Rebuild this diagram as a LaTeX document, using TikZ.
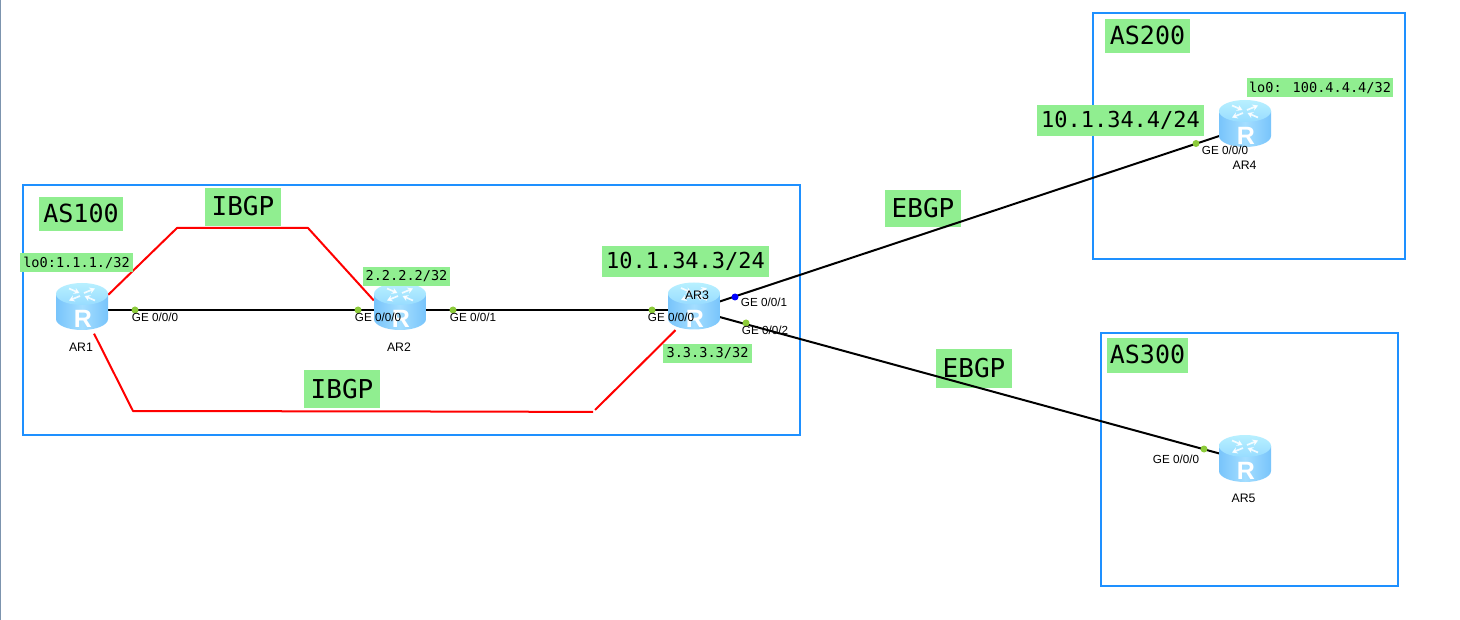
\documentclass[tikz,border=0pt]{standalone}
\usepackage{fontspec}
\setmainfont{Liberation Sans}
\newfontfamily\monof{DejaVu Sans Mono}
\usetikzlibrary{arrows.meta}
\definecolor{asblue}{HTML}{1E90FF}
\definecolor{labgreen}{HTML}{90EE90}
\definecolor{dotgreen}{HTML}{8CCB3A}
\definecolor{edgegray}{HTML}{7C94AE}
\definecolor{bodyside}{HTML}{78C4FB}
\definecolor{bodymid}{HTML}{A4DEFF}
\definecolor{toplight}{HTML}{B8F0FF}
\definecolor{topdark}{HTML}{98DCFF}
\newcommand{\liftup}[1]{\raisebox{2pt}{#1}}
\tikzset{
  x=1pt,y=-1pt,
  asbox/.style={draw=asblue,line width=2pt},
  tag/.style={fill=labgreen,inner sep=0pt,text=black,align=center},
  tagbig/.style={tag,font=\monof\fontsize{22}{24}\selectfont},
  tagas/.style={tag,font=\monof\fontsize{25}{27}\selectfont},
  taghuge/.style={tag,font=\monof\fontsize{26}{28}\selectfont},
  tagsmall/.style={tag,font=\monof\fontsize{13.6}{15}\selectfont},
  port/.style={font=\fontsize{11.7}{13}\selectfont,inner sep=0pt,text=black},
  devname/.style={font=\fontsize{12.3}{14}\selectfont,inner sep=0pt,text=black},
  routerbox/.style={inner sep=0pt,minimum width=52pt,minimum height=47pt},
  dot/.style={circle,inner sep=0pt,minimum size=7pt,fill=#1},
  wire/.style={draw=black,line width=2pt},
  session/.style={draw=red,line width=2pt,line join=round},
  arrowmark/.style={draw=white,draw opacity=0.85,fill opacity=0.85,line width=1.7pt,-{Stealth[length=5.5pt,width=6.5pt]}},
  router/.pic={
    \shade[left color=bodyside,right color=bodyside,middle color=bodymid]
      (-26,-12.5) -- (-26,12.5) .. controls (-26,18.6) and (-14.4,23.5) .. (0,23.5)
      .. controls (14.4,23.5) and (26,18.6) .. (26,12.5) -- (26,-12.5) -- cycle;
    \shade[top color=toplight,bottom color=topdark]
      (0,-12.5) ellipse [x radius=26,y radius=11];
    \draw[arrowmark] (2,-13.5) -- (13,-18);
    \draw[arrowmark] (-2,-10.5) -- (-13,-6);
    \draw[arrowmark] (-13,-18) -- (-2.5,-13.5);
    \draw[arrowmark] (13,-6) -- (2.5,-10.5);
    \node[inner sep=0pt,text=white,font=\bfseries\fontsize{25}{27}\selectfont] at (1,12.5) {R};
  }
}
\begin{document}
\begin{tikzpicture}
\useasboundingbox (0,0) rectangle (1460,620);
\fill[white] (0,0) rectangle (1460,620);
\draw[edgegray,line width=1.5pt] (0.5,0) -- (0.5,620);

% AS frames
\draw[asbox] (23,185.5) rectangle (800,435);
\draw[asbox] (1093,13.5) rectangle (1405,259);
\draw[asbox] (1101,333.5) rectangle (1398,586);

% router anchors
\node[routerbox] (ar1) at (82,310) {};
\node[routerbox] (ar2) at (400,310) {};
\node[routerbox] (ar3) at (694,310) {};
\node[routerbox] (ar4) at (1245,127.5) {};
\node[routerbox] (ar5) at (1245,460.5) {};

% EBGP tags lie under the links
\node[taghuge,minimum width=76pt,minimum height=37pt] (l6) at (923,208.5) {\liftup{EBGP}};
\node[taghuge,minimum width=76pt,minimum height=39pt] (l7) at (974,368.5) {\liftup{EBGP}};

% links
\draw[wire] (ar1.center) -- (ar2.center);
\draw[wire] (ar2.center) -- (ar3.center);
\draw[wire] (ar3.center) -- (ar4.center);
\draw[wire] (ar3.center) -- (ar5.center);

% IBGP sessions
\coordinate (t1) at (177,228);
\coordinate (t2) at (308,228);
\coordinate (b1) at (133,411);
\coordinate (b2) at (490,411.6);
\coordinate (b3) at (593,412);
\coordinate (b4) at (595,410);
\draw[session] (ar1.30) -- (t1) -- (t2) -- (ar2.160);
\draw[session] (ar1.-63) -- (b1) -- (b2) -- (b3);
\draw[session,shorten >=-5pt] (b4) -- (ar3.-133);

% router icons
\pic at (82,306.5) {router};
\pic at (400,306.5) {router};
\pic at (694,306) {router};
\pic at (1245,123.5) {router};
\pic at (1245,458.5) {router};

% port dots
\node[dot=dotgreen] (d1) at (135,310) {};
\node[dot=dotgreen] (d2) at (358,310) {};
\node[dot=dotgreen] (d3) at (453,310) {};
\node[dot=dotgreen] (d4) at (652,310) {};
\node[dot=blue] (d5) at (735,297) {};
\node[dot=dotgreen] (d6) at (746,323) {};
\node[dot=dotgreen] (d7) at (1196,143.5) {};
\node[dot=dotgreen] (d8) at (1204,449) {};

% port labels
\node[port] (p1) at (155,317) {GE 0/0/0};
\node[port] (p2) at (378,317) {GE 0/0/0};
\node[port] (p3) at (473,317) {GE 0/0/1};
\node[port] (p4) at (671,317) {GE 0/0/0};
\node[port] (p5) at (764,302) {GE 0/0/1};
\node[port] (p6) at (765,330) {GE 0/0/2};
\node[port] (p7) at (1225,150) {GE 0/0/0};
\node[port] (p8) at (1176,459) {GE 0/0/0};

% router names
\node[devname] (n1) at (81,347) {AR1};
\node[devname] (n2) at (399,347) {AR2};
\node[devname] (n3) at (697,295) {AR3};
\node[devname] (n4) at (1244.5,165) {AR4};
\node[devname] (n5) at (1243.5,498) {AR5};

% green tags
\node[tagas,minimum width=84pt,minimum height=34pt] (l1) at (81,214.5) {\liftup{AS100}};
\node[tagas,minimum width=85pt,minimum height=34pt] (l2) at (1147.5,36.5) {\liftup{AS200}};
\node[tagas,minimum width=81pt,minimum height=35pt] (l3) at (1147.5,355.5) {\liftup{AS300}};
\node[taghuge,minimum width=76pt,minimum height=38pt] (l4) at (243,207) {\liftup{IBGP}};
\node[taghuge,minimum width=76pt,minimum height=38pt] (l5) at (342,389.5) {\liftup{IBGP}};
\node[tagsmall,minimum width=113pt,minimum height=19pt] (l8) at (76.5,262.5) {lo0:1.1.1./32};
\node[tagsmall,minimum width=87pt,minimum height=19pt] (l9) at (406.5,276.5) {2.2.2.2/32};
\node[tagsmall,minimum width=89pt,minimum height=19pt] (l10) at (707.5,353.5) {3.3.3.3/32};
\node[tagsmall,minimum width=146pt,minimum height=19pt] (l11) at (1320,87.5) {lo0: 100.4.4.4/32};
\node[tagbig,minimum width=167pt,minimum height=31pt] (l12) at (685.5,261.5) {\raisebox{1pt}{10.1.34.3/24}};
\node[tagbig,minimum width=167pt,minimum height=31pt] (l13) at (1120.5,120.5) {\raisebox{1pt}{10.1.34.4/24}};
\end{tikzpicture}
\end{document}
